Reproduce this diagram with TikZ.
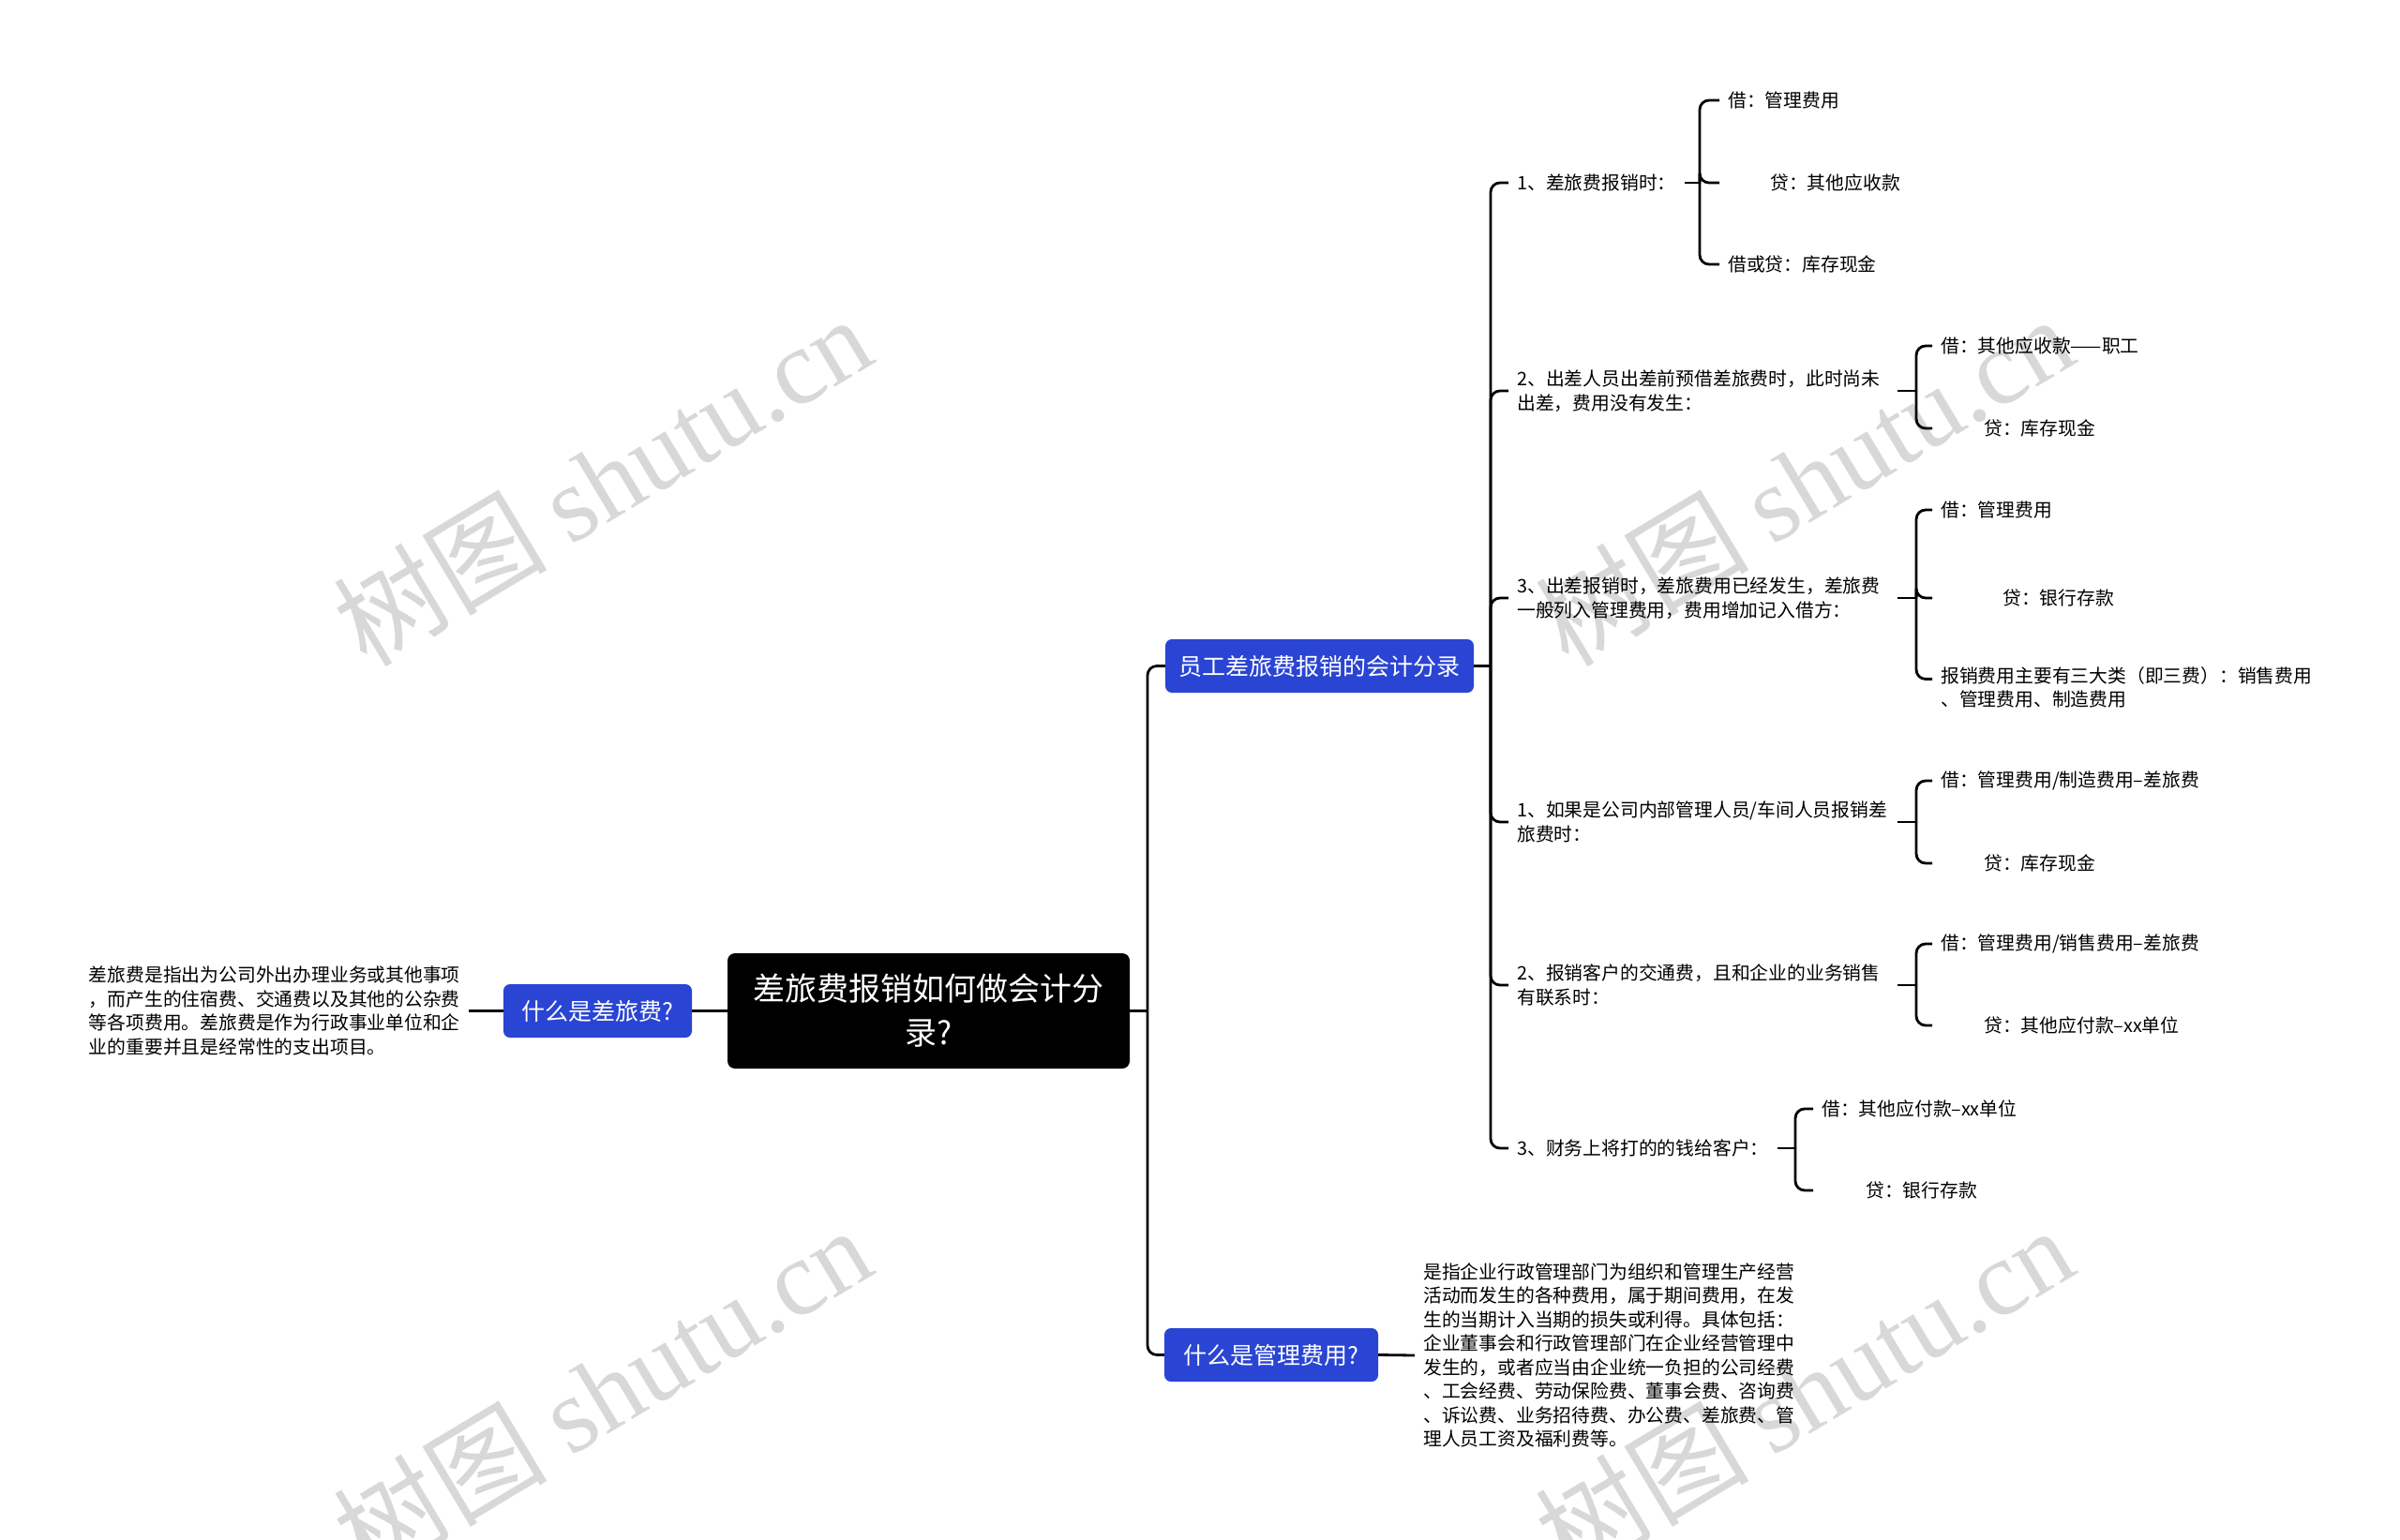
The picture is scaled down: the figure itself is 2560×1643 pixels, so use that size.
\documentclass[tikz,border=0pt]{standalone}
\usepackage{fontspec}
\setmainfont{Noto Sans CJK SC}
\newfontfamily\wmlatin{Liberation Serif}
\definecolor{nodeblue}{RGB}{42,69,211}
\definecolor{wmgray}{RGB}{216,216,216}
\tikzset{
  conn/.style={draw=black, line width=2.8pt, rounded corners=10pt},
  txt/.style={font=\fontsize{19.8pt}{25.5pt}\selectfont, align=left, inner xsep=9pt, inner ysep=2pt, anchor=west, text=black},
  wtxt/.style={txt, text width=397pt},
  bluebox/.style={fill=nodeblue, text=white, rounded corners=7pt, inner sep=0pt, minimum height=57pt, font=\fontsize{25pt}{30pt}\selectfont},
  rootbox/.style={fill=black, text=white, rounded corners=8pt, inner sep=0pt, minimum width=429pt, minimum height=123pt, align=center, font=\fontsize{34pt}{47pt}\selectfont},
  wm/.style={text=wmgray, rotate=31, inner sep=0pt, font=\fontsize{114pt}{120pt}\selectfont}
}
\begin{document}
\begin{tikzpicture}[x=1pt,y=-1pt]
\useasboundingbox (0,0) rectangle (2560,1643);
\fill[white] (0,0) rectangle (2560,1643);
\begin{scope}
\clip (0,0) rectangle (2560,1643);
\node[wm] (wm1) at (642,512) {树图 {\wmlatin shutu.cn}};
\node[wm] (wm2) at (1924,512) {树图 {\wmlatin shutu.cn}};
\node[wm] (wm3) at (642,1484) {树图 {\wmlatin shutu.cn}};
\node[wm] (wm4) at (1924,1484) {树图 {\wmlatin shutu.cn}};
\end{scope}

% main nodes
\node[rootbox] (root) at (990.5,1078.5) {差旅费报销如何做会计分\\录?};
\node[bluebox, minimum width=201pt] (cl) at (637.5,1078.5) {什么是差旅费?};
\node[bluebox, minimum width=329pt] (yg) at (1407.5,710.5) {员工差旅费报销的会计分录};
\node[bluebox, minimum width=228pt] (gl) at (1356,1445.5) {什么是管理费用?};

% descriptions
\node[txt, anchor=east] (cltxt) at (500,1078.5) {差旅费是指出为公司外出办理业务或其他事项\\，而产生的住宿费、交通费以及其他的公杂费\\等各项费用。差旅费是作为行政事业单位和企\\业的重要并且是经常性的支出项目。};
\node[txt] (gltxt) at (1509,1446) {是指企业行政管理部门为组织和管理生产经营\\活动而发生的各种费用，属于期间费用，在发\\生的当期计入当期的损失或利得。具体包括：\\企业董事会和行政管理部门在企业经营管理中\\发生的，或者应当由企业统一负担的公司经费\\、工会经费、劳动保险费、董事会费、咨询费\\、诉讼费、业务招待费、办公费、差旅费、管\\理人员工资及福利费等。};

% level 2 text nodes
\node[txt] (t1) at (1609,195) {1、差旅费报销时：};
\node[wtxt] (t2) at (1609,417) {2、出差人员出差前预借差旅费时，此时尚未\\出差，费用没有发生：};
\node[wtxt] (t3) at (1609,638) {3、出差报销时，差旅费用已经发生，差旅费\\一般列入管理费用，费用增加记入借方：};
\node[wtxt] (t4) at (1609,877) {1、如果是公司内部管理人员/车间人员报销差\\旅费时：};
\node[wtxt] (t5) at (1609,1051) {2、报销客户的交通费，且和企业的业务销售\\有联系时：};
\node[txt] (t6) at (1609,1225) {3、财务上将打的的钱给客户：};

% level 3
\node[txt] (t1a) at (1834,107) {借：管理费用};
\node[txt] (t1b) at (1834,195) {\hspace*{45pt}贷：其他应收款};
\node[txt] (t1c) at (1834,282) {借或贷：库存现金};

\node[txt] (t2a) at (2061,369) {借：其他应收款——职工};
\node[txt] (t2b) at (2061,457) {\hspace*{46pt}贷：库存现金};

\node[txt] (t3a) at (2061,544) {借：管理费用};
\node[txt] (t3b) at (2061,638) {\hspace*{66pt}贷：银行存款};
\node[txt] (t3c) at (2061,733.5) {报销费用主要有三大类（即三费）：销售费用\\、管理费用、制造费用};

\node[txt] (t4a) at (2061,833) {借：管理费用/制造费用–差旅费};
\node[txt] (t4b) at (2061,921) {\hspace*{46pt}贷：库存现金};

\node[txt] (t5a) at (2061,1007) {借：管理费用/销售费用–差旅费};
\node[txt] (t5b) at (2061,1094) {\hspace*{46pt}贷：其他应付款–xx单位};

\node[txt] (t6a) at (1934,1183) {借：其他应付款–xx单位};
\node[txt] (t6b) at (1934,1270) {\hspace*{47pt}贷：银行存款};

% junction coordinates
\coordinate (s0) at (1224,1078.5);
\coordinate (s1) at (1590,710.5);
\coordinate (b1) at (1813,195);
\coordinate (b2) at (2044,417);
\coordinate (b3) at (2044,638);
\coordinate (b4) at (2044,877);
\coordinate (b5) at (2044,1051);
\coordinate (b6) at (1915,1225);

% connectors
\draw[conn] (cl.west) -- (cltxt.east);
\draw[conn] (root.west) -- (cl.east);
\draw[conn] (gl.east) -- (gltxt.west);
\draw[conn] (root.east) -- (s0);
\draw[conn] (s0) |- (yg.west);
\draw[conn] (s0) |- (gl.west);

\draw[conn] (yg.east) -- (s1);
\foreach \c in {t1,t2,t3,t4,t5,t6} \draw[conn] (s1) |- (\c.west);

\draw[conn] (t1.east) -- (b1);
\foreach \c in {t1a,t1b,t1c} \draw[conn] (b1) |- (\c.west);
\draw[conn] (t2.east) -- (b2);
\foreach \c in {t2a,t2b} \draw[conn] (b2) |- (\c.west);
\draw[conn] (t3.east) -- (b3);
\foreach \c in {t3a,t3b} \draw[conn] (b3) |- (\c.west);
\draw[conn] (b3) |- ([yshift=9pt]t3c.west);
\draw[conn] (t4.east) -- (b4);
\foreach \c in {t4a,t4b} \draw[conn] (b4) |- (\c.west);
\draw[conn] (t5.east) -- (b5);
\foreach \c in {t5a,t5b} \draw[conn] (b5) |- (\c.west);
\draw[conn] (t6.east) -- (b6);
\foreach \c in {t6a,t6b} \draw[conn] (b6) |- (\c.west);
\end{tikzpicture}
\end{document}
